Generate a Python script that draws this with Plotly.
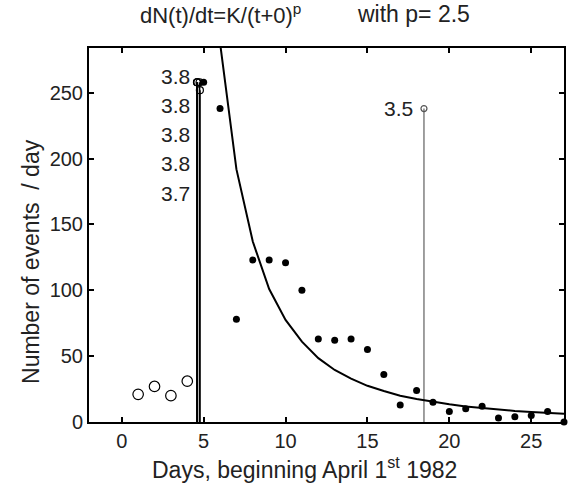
import plotly.graph_objects as go

# Daily event counts before the main shock (open circles)
days_before = [1, 2, 3, 4]
counts_before = [21, 27, 20, 31]

# Daily event counts from day 5 onwards (filled dots)
days_after = list(range(5, 28))
counts_after = [258, 238, 78, 123, 123, 121, 100, 63, 62, 63, 55, 36,
                13, 24, 15, 8, 10, 12, 3, 4, 5, 8, 0]

# Decay curve K/(t+0)^p, p = 2.5, at whole days
curve_days = list(range(6, 28))
curve_rate = [288, 192, 137, 101, 77.5, 61, 48.5, 39.5, 33, 27.5, 23.5,
              20, 17.4, 15.2, 13.4, 11.8, 10.5, 9.4, 8.4, 7.6, 6.9, 6.3]

# Large events: time (days), stem height, magnitude
big_times = [4.59, 4.60, 4.61, 4.75, 4.77]
big_heights = [258, 258, 258, 258, 252]
big_mags = ["3.8", "3.8", "3.8", "3.8", "3.7"]

late_time = [18.45]
late_height = [238]
late_mag = ["3.5"]

FONT = "Liberation Sans, Arial, Helvetica, sans-serif"
TXT = "#222222"

fig = go.Figure()

# stems of the large events
for t, h in zip(big_times, big_heights):
    fig.add_trace(go.Scatter(x=[t, t], y=[0, h], mode="lines",
                             line=dict(color="black", width=1.6),
                             hoverinfo="skip", showlegend=False))
for t, h in zip(late_time, late_height):
    fig.add_trace(go.Scatter(x=[t, t], y=[0, h], mode="lines",
                             line=dict(color="#808080", width=1.5),
                             hoverinfo="skip", showlegend=False))

# decay curve
fig.add_trace(go.Scatter(x=curve_days, y=curve_rate, mode="lines",
                         line=dict(color="black", width=2),
                         showlegend=False))

# counts
fig.add_trace(go.Scatter(x=days_before, y=counts_before, mode="markers",
                         marker=dict(symbol="circle-open", size=10.5,
                                     color="black", line=dict(width=1.2)),
                         showlegend=False))
fig.add_trace(go.Scatter(x=days_after, y=counts_after, mode="markers",
                         marker=dict(symbol="circle", size=7, color="black"),
                         cliponaxis=False, showlegend=False))

# stem tops
fig.add_trace(go.Scatter(x=big_times, y=big_heights, mode="markers",
                         marker=dict(symbol="circle-open", size=7,
                                     color="black", line=dict(width=1.2)),
                         cliponaxis=False, showlegend=False))
fig.add_trace(go.Scatter(x=late_time, y=late_height, mode="markers",
                         marker=dict(symbol="circle-open", size=6,
                                     color="#555555", line=dict(width=1.2)),
                         showlegend=False))

# magnitude labels
annotations = []
for i, m in enumerate(big_mags):
    annotations.append(dict(x=big_times[0], y=big_heights[0], xref="x", yref="y",
                            text=m, showarrow=False, xanchor="right",
                            yanchor="middle", xshift=-5, yshift=6 - 29.2 * i,
                            font=dict(family=FONT, size=21, color=TXT)))
for t, h, m in zip(late_time, late_height, late_mag):
    annotations.append(dict(x=t, y=h, xref="x", yref="y", text=m,
                            showarrow=False, xanchor="right", yanchor="middle",
                            xshift=-9, font=dict(family=FONT, size=21, color=TXT)))

# titles
annotations += [
    dict(x=0.103, y=1.092, xref="paper", yref="paper",
         text="dN(t)/dt=K/(t+0)<sup>p</sup>", showarrow=False,
         xanchor="left", yanchor="middle",
         font=dict(family=FONT, size=22, color=TXT)),
    dict(x=0.560, y=1.092, xref="paper", yref="paper",
         text="with p= 2.5", showarrow=False,
         xanchor="left", yanchor="middle",
         font=dict(family=FONT, size=23, color=TXT)),
    dict(x=0.453, y=-0.124, xref="paper", yref="paper",
         text="Days, beginning April 1<sup>st</sup> 1982", showarrow=False,
         xanchor="center", yanchor="middle",
         font=dict(family=FONT, size=23, color=TXT)),
    dict(x=-0.122, y=0.428, xref="paper", yref="paper",
         text="Number of events  / day", showarrow=False, textangle=-90,
         xanchor="center", yanchor="middle",
         font=dict(family=FONT, size=23, color=TXT)),
]

axis_common = dict(showgrid=False, zeroline=False, showline=True,
                   linecolor="black", linewidth=2, mirror="ticks",
                   ticks="inside", ticklen=5, tickwidth=1.5, tickcolor="black",
                   tickfont=dict(family=FONT, size=20, color=TXT))

fig.update_layout(
    width=570, height=483,
    margin=dict(l=89, r=4, t=48, b=61),
    paper_bgcolor="white", plot_bgcolor="white",
    xaxis=dict(range=[-2, 27], tickvals=[0, 5, 10, 15, 20, 25], **axis_common),
    yaxis=dict(range=[0, 284], tickvals=[0, 50, 100, 150, 200, 250], **axis_common),
    annotations=annotations,
    showlegend=False,
)

fig.write_html("out.html")
